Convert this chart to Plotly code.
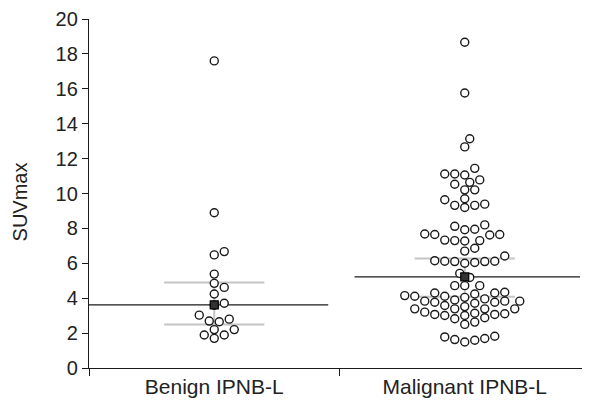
import plotly.graph_objects as go

# ---- data ----
categories = ["Benign IPNB-L", "Malignant IPNB-L"]

benign = [17.6, 8.9, 6.67, 6.48, 5.38, 4.85, 4.62, 4.24, 3.71, 3.60,
          3.03, 2.80, 2.69, 2.65, 2.20, 2.20, 1.89, 1.89, 1.70]

malignant = [18.67, 15.76, 13.14, 12.67,
             11.44, 11.12, 11.06, 11.12, 10.78, 10.64, 10.53, 10.21, 10.21,
             9.70, 9.64, 9.39, 9.32, 9.32, 9.20,
             8.20, 8.12, 7.95, 7.92, 7.68, 7.65, 7.65, 7.62, 7.33, 7.30, 7.30, 7.28,
             6.86, 6.70, 6.42, 6.15, 6.10, 6.12, 6.05, 6.10, 6.12, 6.00,
             5.42, 5.19,
             4.72, 4.72, 4.72,
             4.34, 4.30, 4.30, 4.24, 4.15, 4.11, 4.11,
             4.05, 3.96, 3.90, 3.83, 3.83, 3.83, 3.77, 3.77,
             3.71, 3.58, 3.52, 3.39, 3.39, 3.39, 3.39,
             3.20, 3.14, 3.11, 3.07, 3.07, 3.01, 3.01, 2.88,
             2.82, 2.63, 2.50,
             1.82, 1.78, 1.69, 1.63, 1.59, 1.49]

medians = [3.62, 5.22]
lower_q = [2.50, 4.09]
upper_q = [4.90, 6.27]

y_ticks = [0, 2, 4, 6, 8, 10, 12, 14, 16, 18, 20]

# ---- layout constants (page has an 8px body margin) ----
W, H = 582, 397
ML, MR, MT, MB = 81, 0, 8, 37
XR = [-0.5, 1.5]
YR = [0, 20]
PW = W - ML - MR
PH = H - MT - MB
px_x = PW / (XR[1] - XR[0])
px_y = PH / (YR[1] - YR[0])


def swarm(vals, center, d=8.8, step=5.0):
    order = sorted(range(len(vals)), key=lambda i: vals[i])
    placed = []
    xs = [0.0] * len(vals)
    cands = [0.0]
    for m in range(1, 40):
        cands += [m * step, -m * step]
    for i in order:
        y = vals[i] * px_y
        chosen = 0.0
        for c in cands:
            if all((c - px) ** 2 + (y - py) ** 2 >= d * d for px, py in placed):
                chosen = c
                break
        placed.append((chosen, y))
        xs[i] = center + chosen / px_x
    return xs


fig = go.Figure()

line_dark = "#1a1a1a"
grey = "#c4c4c4"

# quartile / spread lines
for i in range(2):
    fig.add_trace(go.Scatter(x=[i - 0.2, i + 0.2], y=[upper_q[i]] * 2, mode="lines",
                             line=dict(color=grey, width=2), hoverinfo="skip", showlegend=False))
    fig.add_trace(go.Scatter(x=[i - 0.2, i + 0.2], y=[lower_q[i]] * 2, mode="lines",
                             line=dict(color=grey, width=2), hoverinfo="skip", showlegend=False))
    fig.add_trace(go.Scatter(x=[i, i], y=[lower_q[i], upper_q[i]], mode="lines",
                             line=dict(color=grey, width=2), hoverinfo="skip", showlegend=False))

# median lines
med_spans = [(-0.5, 0.455), (0.56, 1.46)]
for i in range(2):
    fig.add_trace(go.Scatter(x=list(med_spans[i]), y=[medians[i]] * 2, mode="lines",
                             line=dict(color=line_dark, width=1.4), hoverinfo="skip", showlegend=False))

# points
for i, vals in enumerate([benign, malignant]):
    fig.add_trace(go.Scatter(x=swarm(vals, i), y=vals, mode="markers",
                             marker=dict(symbol="circle", size=8, color="white",
                                         line=dict(color=line_dark, width=1.4)),
                             showlegend=False, cliponaxis=False))

# median markers
fig.add_trace(go.Scatter(x=[0, 1], y=medians, mode="markers",
                         marker=dict(symbol="square", size=8, color="#333333",
                                     line=dict(color="#000000", width=1.2)),
                         showlegend=False))

fig.update_layout(
    width=W, height=H,
    margin=dict(l=ML, r=MR, t=MT, b=MB),
    paper_bgcolor="white", plot_bgcolor="white",
    font=dict(family="Liberation Sans, Arial, sans-serif", size=20, color="#222222"),
    xaxis=dict(range=XR, tickvals=[0, 1], ticktext=categories, ticks="",
               showline=True, linecolor=line_dark, linewidth=1.3, showgrid=False,
               zeroline=False, tickfont=dict(size=21), ticklabeloverflow="allow",
               minor=dict(tickvals=[-0.5, 0.5], ticks="outside", ticklen=7,
                          tickcolor=line_dark, tickwidth=1.3, showgrid=False)),
    yaxis=dict(range=YR, tickvals=y_ticks, ticks="outside", ticklen=6,
               tickcolor=line_dark, tickwidth=1.3, showline=True, linecolor=line_dark,
               linewidth=1.3, showgrid=False, zeroline=False, tickfont=dict(size=20),
               ticklabeloverflow="allow"),
    annotations=[dict(text="SUVmax", xref="paper", yref="paper", x=(12 - ML) / PW,
                      y=(H - MB - 193) / PH, textangle=-90, showarrow=False,
                      xanchor="center", yanchor="middle", font=dict(size=20))],
)

fig.write_html("out.html")
